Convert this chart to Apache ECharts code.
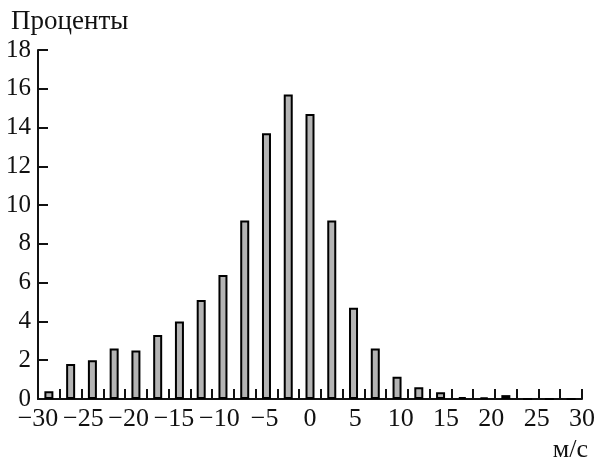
<!DOCTYPE html>
<html>
<head>
<meta charset="utf-8">
<script src="https://cdn.jsdelivr.net/npm/echarts@6/dist/echarts.min.js"></script>
<style>
  html, body { margin: 0; padding: 0; background: #fff; }
  #chart { width: 598px; height: 463px; }
</style>
</head>
<body>
<div id="chart"></div>
<script>
// 25 bins of 2.4 m/s from -30 to 30
var binLabels = [];
for (var i = 0; i < 25; i++) {
  binLabels.push((-30 + 2.4 * i).toFixed(1) + '…' + (-30 + 2.4 * (i + 1)).toFixed(1));
}
var percents = [0.4, 1.8, 2.0, 2.6, 2.5, 3.3, 4.0, 5.1, 6.4, 9.2, 13.7, 15.7, 14.7,
                9.2, 4.7, 2.6, 1.15, 0.6, 0.35, 0.1, 0.08, 0.2, 0, 0, 0];
var speedTicks = [-30, 30, 5];   // min, max, step of labelled axis
var percentTicks = [0, 18, 2];

var font = 'Liberation Serif';
var ink = '#111';

var chart = echarts.init(document.getElementById('chart'));

var option = {
  animation: false,
  title: {
    text: 'Проценты',
    left: 6,
    top: 3,
    textStyle: { fontFamily: font, fontSize: 27, fontWeight: 'normal', color: ink }
  },
  grid: {
    left: 38,
    right: 9,
    top: 50,
    bottom: 60
  },
  xAxis: [{
    type: 'category',
    data: binLabels,
    boundaryGap: true,
    axisLine: { onZero: false, lineStyle: { color: ink, width: 2 } },
    axisTick: { show: true, interval: 0, inside: true, length: 10, lineStyle: { color: ink, width: 2 } },
    axisLabel: { show: false, interval: 0 },
    splitLine: { show: false }
  }, {
    type: 'value',
    position: 'bottom',
    offset: 0,
    min: speedTicks[0],
    max: speedTicks[1],
    interval: speedTicks[2],
    axisLine: { show: false, onZero: false },
    axisTick: { show: false },
    splitLine: { show: false },
    axisLabel: {
      showMinLabel: true,
      showMaxLabel: true,
      margin: 7,
      fontFamily: font,
      fontSize: 26,
      color: ink,
      formatter: function (v) { return v < 0 ? '\u2212' + Math.abs(v) : String(v); }
    },
    name: 'м/с',
    nameLocation: 'end',
    nameGap: 6,
    nameTextStyle: {
      fontFamily: font, fontSize: 26, color: ink,
      align: 'right', verticalAlign: 'top', padding: [38, 0, 0, 0]
    }
  }],
  yAxis: {
    type: 'value',
    min: percentTicks[0],
    max: percentTicks[1],
    interval: percentTicks[2],
    axisLine: { show: true, onZero: false, lineStyle: { color: ink, width: 2 } },
    axisTick: { show: true, inside: true, length: 10, lineStyle: { color: ink, width: 2 } },
    splitLine: { show: false },
    axisLabel: { margin: 7, fontFamily: font, fontSize: 25, color: ink }
  },
  series: [{
    type: 'bar',
    xAxisIndex: 0,
    data: percents,
    barWidth: 9,
    itemStyle: { color: '#b4b4b4', borderColor: '#000', borderWidth: 2 }
  }]
};

chart.setOption(option);
</script>
</body>
</html>
